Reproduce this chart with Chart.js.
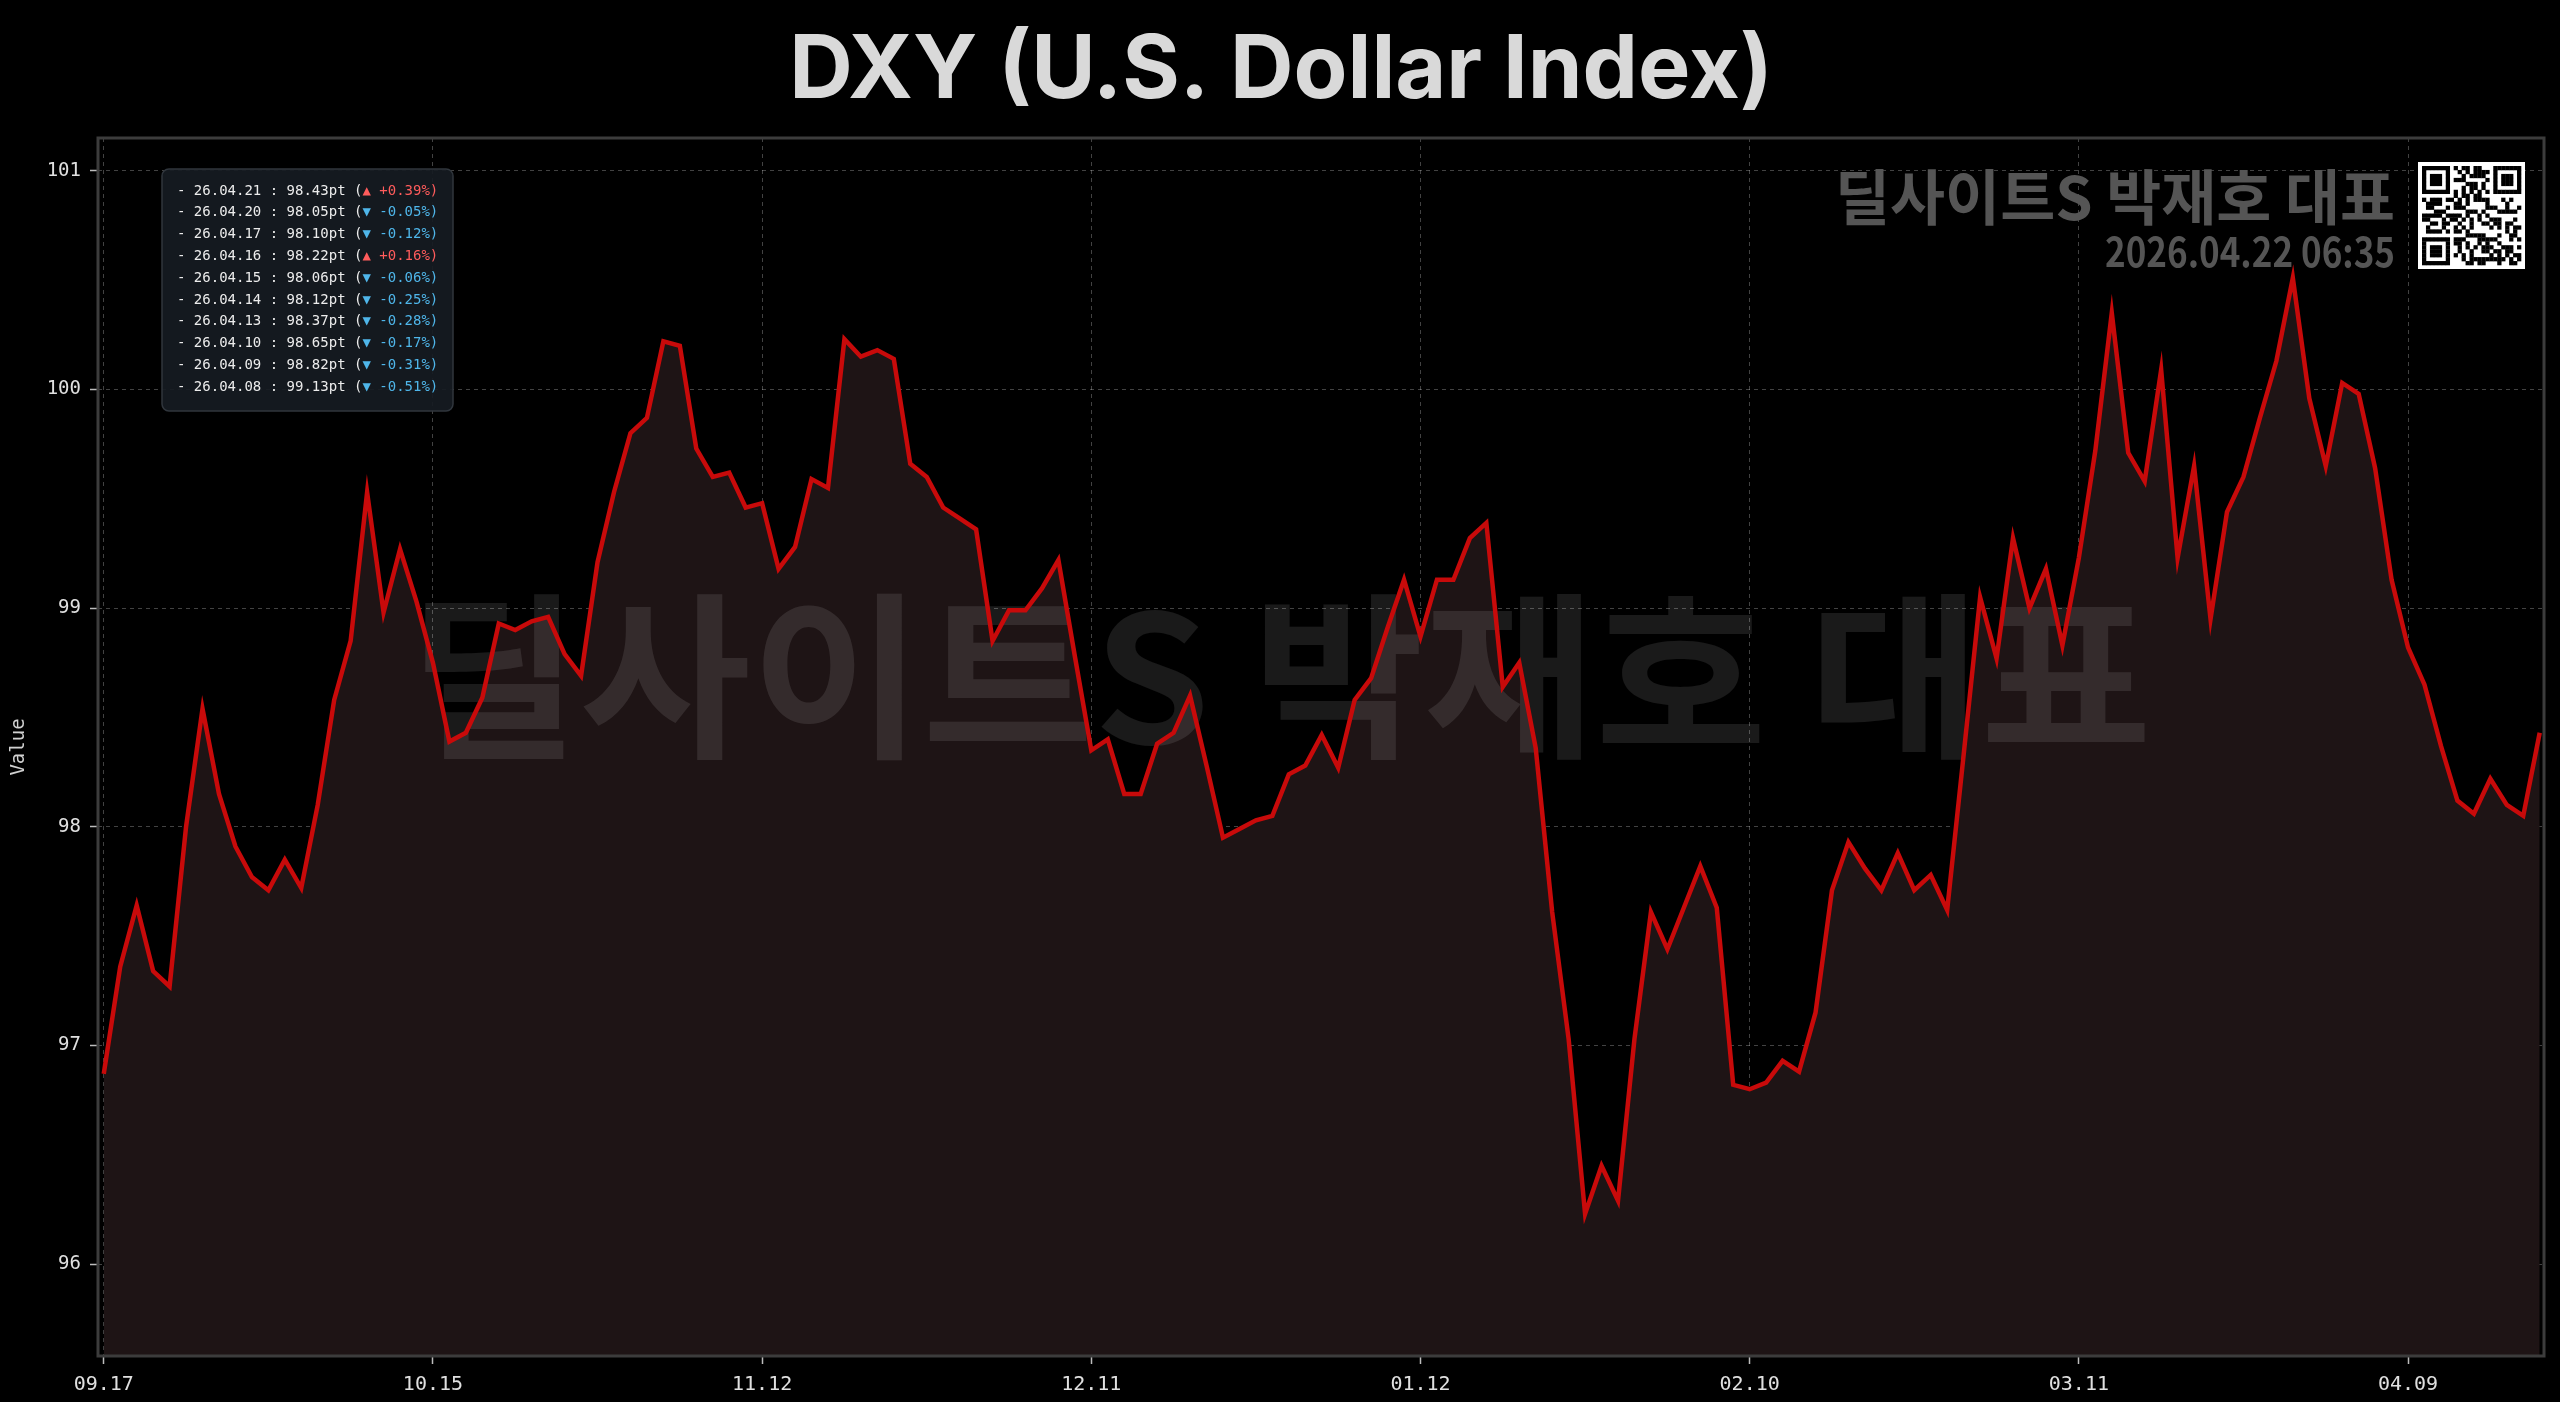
<!DOCTYPE html>
<html>
<head>
<meta charset="utf-8">
<title>DXY (U.S. Dollar Index)</title>
<script src="https://cdn.jsdelivr.net/npm/chart.js@4.4.1/dist/chart.umd.min.js"></script>
<style>
    html, body { margin: 0; padding: 0; background: #000; }
    canvas { display: block; }
</style>
</head>
<body>
<canvas id="dxyChart" width="2560" height="1402"></canvas>
<script>
const chartTitle = 'DXY (U.S. Dollar Index)';
const brandText = '딜사이트S 박재호 대표';
const stampText = '2026.04.22 06:35';

// trading days, YY.MM.DD
const tradeDates = [
    '25.09.17', '25.09.18', '25.09.19', '25.09.22', '25.09.23', '25.09.24', '25.09.25', '25.09.26', '25.09.29', '25.09.30',
    '25.10.01', '25.10.02', '25.10.03', '25.10.06', '25.10.07', '25.10.08', '25.10.09', '25.10.10', '25.10.13', '25.10.14',
    '25.10.15', '25.10.16', '25.10.17', '25.10.20', '25.10.21', '25.10.22', '25.10.23', '25.10.24', '25.10.27', '25.10.28',
    '25.10.29', '25.10.30', '25.10.31',
    '25.11.03', '25.11.04', '25.11.05', '25.11.06', '25.11.07', '25.11.10', '25.11.11', '25.11.12', '25.11.13', '25.11.14',
    '25.11.17', '25.11.18', '25.11.19', '25.11.20', '25.11.21', '25.11.24', '25.11.25', '25.11.26', '25.11.28',
    '25.12.01', '25.12.02', '25.12.03', '25.12.04', '25.12.05', '25.12.08', '25.12.09', '25.12.10', '25.12.11', '25.12.12',
    '25.12.15', '25.12.16', '25.12.17', '25.12.18', '25.12.19', '25.12.22', '25.12.23', '25.12.24', '25.12.26', '25.12.29',
    '25.12.30', '25.12.31',
    '26.01.02', '26.01.05', '26.01.06', '26.01.07', '26.01.08', '26.01.09', '26.01.12', '26.01.13', '26.01.14', '26.01.15',
    '26.01.16', '26.01.20', '26.01.21', '26.01.22', '26.01.23', '26.01.26', '26.01.27', '26.01.28', '26.01.29', '26.01.30',
    '26.02.02', '26.02.03', '26.02.04', '26.02.05', '26.02.06', '26.02.09', '26.02.10', '26.02.11', '26.02.12', '26.02.13',
    '26.02.17', '26.02.18', '26.02.19', '26.02.20', '26.02.23', '26.02.24', '26.02.25', '26.02.26', '26.02.27',
    '26.03.02', '26.03.03', '26.03.04', '26.03.05', '26.03.06', '26.03.09', '26.03.10', '26.03.11', '26.03.12', '26.03.13',
    '26.03.16', '26.03.17', '26.03.18', '26.03.19', '26.03.20', '26.03.23', '26.03.24', '26.03.25', '26.03.26', '26.03.27',
    '26.03.30', '26.03.31',
    '26.04.01', '26.04.02', '26.04.06', '26.04.07', '26.04.08', '26.04.09', '26.04.10', '26.04.13', '26.04.14', '26.04.15',
    '26.04.16', '26.04.17', '26.04.20', '26.04.21'
];

const dxyValues = [
    96.87, 97.36, 97.64, 97.34, 97.27, 98.00, 98.54, 98.15, 97.91, 97.77,
    97.71, 97.85, 97.72, 98.10, 98.58, 98.85, 99.53, 98.98, 99.27, 99.03,
    98.75, 98.39, 98.43, 98.59, 98.93, 98.90, 98.94, 98.96, 98.79, 98.69,
    99.21, 99.53, 99.80, 99.87, 100.22, 100.20, 99.73, 99.60, 99.62, 99.46,
    99.48, 99.18, 99.28, 99.59, 99.55, 100.23, 100.15, 100.18, 100.14, 99.66,
    99.60, 99.46, 99.41, 99.36, 98.85, 98.99, 98.99, 99.09, 99.22, 98.78,
    98.35, 98.40, 98.15, 98.15, 98.38, 98.43, 98.60, 98.28, 97.95, 97.99,
    98.03, 98.05, 98.24, 98.28, 98.42, 98.27, 98.58, 98.68, 98.91, 99.13,
    98.87, 99.13, 99.13, 99.32, 99.39, 98.64, 98.75, 98.36, 97.61, 97.03,
    96.23, 96.45, 96.29, 97.03, 97.61, 97.44, 97.63, 97.82, 97.63, 96.82,
    96.80, 96.83, 96.93, 96.88, 97.15, 97.71, 97.93, 97.81, 97.71, 97.88,
    97.71, 97.78, 97.62, 98.33, 99.05, 98.77, 99.32, 99.00, 99.18, 98.83,
    99.23, 99.72, 100.35, 99.71, 99.58, 100.09, 99.23, 99.65, 98.95, 99.44,
    99.60, 99.87, 100.13, 100.51, 99.96, 99.65, 100.03, 99.98, 99.64, 99.13,
    98.82, 98.65, 98.37, 98.12, 98.06, 98.22, 98.10, 98.05, 98.43
];

const xTickIndexes = [0, 20, 40, 60, 80, 100, 120, 140];
const yTickValues = [96, 97, 98, 99, 100, 101];
const recentCount = 10;

const MONO = '"DejaVu Sans Mono", monospace';
const KR = '"Noto Sans CJK KR", sans-serif';

document.addEventListener('DOMContentLoaded', () => {
    Chart.defaults.font.family = MONO;
    createDxyChart();
});

// draws text squeezed/stretched to a given width
function fitText(ctx, text, x, y, width, align) {
    const w = ctx.measureText(text).width;
    ctx.save();
    ctx.translate(x, y);
    ctx.scale(width / w, 1);
    ctx.textAlign = align;
    ctx.fillText(text, 0, 0);
    ctx.restore();
}

function drawQr(ctx, x, y, size) {
    const n = 25;
    const margin = 4;
    const m = (size - margin * 2) / n;
    ctx.fillStyle = '#fff';
    ctx.fillRect(x, y, size, size);
    ctx.fillStyle = '#000';
    const finder = (r0, c0) => {
        for (let r = 0; r < 7; r++) {
            for (let c = 0; c < 7; c++) {
                const ring = r === 0 || r === 6 || c === 0 || c === 6;
                const core = r >= 2 && r <= 4 && c >= 2 && c <= 4;
                if (ring || core) ctx.fillRect(x + margin + (c0 + c) * m, y + margin + (r0 + r) * m, m + 0.3, m + 0.3);
            }
        }
    };
    finder(0, 0);
    finder(0, n - 7);
    finder(n - 7, 0);
    for (let r = 0; r < n; r++) {
        for (let c = 0; c < n; c++) {
            const inFinder = (r < 8 && c < 8) || (r < 8 && c >= n - 8) || (r >= n - 8 && c < 8);
            if (inFinder) continue;
            let on;
            if (r === 6) on = c % 2 === 0;
            else if (c === 6) on = r % 2 === 0;
            else {
                const h = ((r * 73856093) ^ (c * 19349663) ^ (r * c * 83492791)) >>> 0;
                on = ((h >>> 7) & 3) < 2;
            }
            if (on) ctx.fillRect(x + margin + c * m, y + margin + r * m, m + 0.3, m + 0.3);
        }
    }
}

function drawRecentBox(ctx) {
    const bx = 162, by = 169, bw = 291, bh = 242;
    ctx.save();
    ctx.beginPath();
    ctx.roundRect(bx, by, bw, bh, 7);
    ctx.fillStyle = 'rgba(22, 27, 34, 0.92)';
    ctx.fill();
    ctx.lineWidth = 1.5;
    ctx.strokeStyle = '#30363d';
    ctx.stroke();

    ctx.font = '14px ' + MONO;
    ctx.textBaseline = 'middle';
    ctx.textAlign = 'left';
    const last = dxyValues.length - 1;
    for (let k = 0; k < recentCount; k++) {
        const i = last - k;
        const v = dxyValues[i];
        const chg = (v / dxyValues[i - 1] - 1) * 100;
        const up = chg >= 0;
        const head = '- ' + tradeDates[i] + ' : ' + v.toFixed(2) + 'pt (';
        const tail = (up ? '▲ +' : '▼ -') + Math.abs(chg).toFixed(2) + '%)';
        const ty = 191 + k * 21.8;
        ctx.fillStyle = '#ececec';
        ctx.fillText(head, 177, ty);
        const hw = ctx.measureText(head).width;
        ctx.fillStyle = up ? '#ff5c5c' : '#4fb6ea';
        ctx.fillText(tail, 177 + hw, ty);
    }
    ctx.restore();
}

const decorPlugin = {
    id: 'decor',
    beforeDatasetsDraw(chart) {
        const ctx = chart.ctx;
        ctx.save();
        ctx.fillStyle = 'rgba(255, 255, 255, 0.1)';
        ctx.font = 'bold 178px ' + KR;
        ctx.textBaseline = 'middle';
        fitText(ctx, brandText, 1280, 676, 1744, 'center');
        ctx.restore();
    },
    afterDatasetsDraw(chart) {
        const ctx = chart.ctx;
        const a = chart.chartArea;
        ctx.save();
        ctx.strokeStyle = '#3c3c3c';
        ctx.lineWidth = 3;
        ctx.strokeRect(a.left, a.top, a.right - a.left, a.bottom - a.top);
        ctx.restore();
    },
    afterDraw(chart) {
        const ctx = chart.ctx;
        ctx.save();
        // title
        ctx.fillStyle = '#d9d9d9';
        ctx.font = 'bold 88px Inter, sans-serif';
        ctx.textAlign = 'center';
        ctx.textBaseline = 'alphabetic';
        ctx.fillText(chartTitle, 1281, 98);

        // brand stamp, top right
        ctx.fillStyle = '#555555';
        ctx.textBaseline = 'middle';
        ctx.font = 'bold 60px ' + KR;
        fitText(ctx, brandText, 2395, 197, 560, 'right');
        ctx.font = 'bold 41px ' + KR;
        fitText(ctx, stampText, 2395, 251, 290, 'right');
        ctx.restore();

        drawQr(ctx, 2418, 162, 107);
        drawRecentBox(ctx);
    }
};

function createDxyChart() {
    const ctx = document.getElementById('dxyChart').getContext('2d');
    const points = dxyValues.map((v, i) => ({ x: i, y: v }));
    const gridColor = 'rgba(255, 255, 255, 0.26)';

    new Chart(ctx, {
        type: 'line',
        data: {
            datasets: [{
                label: 'DXY',
                data: points,
                borderColor: '#c80a0a',
                borderWidth: 4.5,
                backgroundColor: '#1e1415',
                fill: 'start',
                pointRadius: 0,
                tension: 0
            }]
        },
        options: {
            responsive: false,
            animation: false,
            devicePixelRatio: 1,
            layout: {
                padding: { top: 138, right: 16, left: 0, bottom: 0 }
            },
            plugins: {
                legend: { display: false },
                tooltip: { enabled: false },
                title: { display: false },
                filler: { drawTime: 'beforeDatasetsDraw' }
            },
            scales: {
                x: {
                    type: 'linear',
                    min: -0.35,
                    max: 148.26,
                    afterFit: s => { s.height = 46; },
                    afterBuildTicks: s => { s.ticks = xTickIndexes.map(v => ({ value: v })); },
                    ticks: {
                        color: '#e0e0e0',
                        font: { size: 20 },
                        padding: 9,
                        maxRotation: 0,
                        autoSkip: false,
                        callback: v => tradeDates[v].slice(3)
                    },
                    grid: {
                        color: gridColor,
                        lineWidth: 1,
                        tickLength: 8,
                        tickColor: '#bdbdbd',
                        tickWidth: 1.5,
                        tickBorderDash: []
                    },
                    border: { display: false, dash: [4, 4] }
                },
                y: {
                    min: 95.58,
                    max: 101.15,
                    afterFit: s => { s.width = 98; },
                    afterBuildTicks: s => { s.ticks = yTickValues.map(v => ({ value: v })); },
                    ticks: {
                        color: '#e0e0e0',
                        font: { size: 19 },
                        padding: 9,
                        callback: v => String(v)
                    },
                    grid: {
                        color: gridColor,
                        lineWidth: 1,
                        tickLength: 8,
                        tickColor: '#bdbdbd',
                        tickWidth: 1.5,
                        tickBorderDash: []
                    },
                    border: { display: false, dash: [4, 4] },
                    title: {
                        display: true,
                        text: 'Value',
                        color: '#d0d0d0',
                        font: { size: 19 },
                        padding: { top: 8, bottom: 0 }
                    }
                }
            }
        },
        plugins: [decorPlugin]
    });
}
</script>
</body>
</html>
